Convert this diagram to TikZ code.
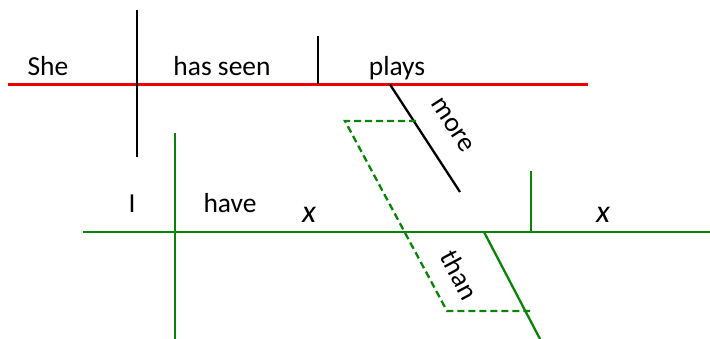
\documentclass[tikz,border=0pt]{standalone}
\usepackage{fontspec}
\setmainfont{Carlito}
\usepackage{tikz}
\usetikzlibrary{arrows.meta,positioning,calc}

\definecolor{diagred}{RGB}{235,0,0}
\definecolor{diaggreen}{RGB}{10,130,10}

\begin{document}
\begin{tikzpicture}[x=1pt,y=-1pt,
  redline/.style={draw=diagred, line width=2.4pt},
  greenline/.style={draw=diaggreen, line width=2.3pt},
  blackline/.style={draw=black, line width=2.3pt},
  dashline/.style={draw=diaggreen, line width=2.3pt, dash pattern=on 7pt off 4pt},
  word/.style={inner sep=0pt, anchor=base, font=\fontsize{27.5}{30}\selectfont},
  var/.style={inner sep=0pt, anchor=base, font=\fontsize{32}{34}\selectfont\itshape}]
\useasboundingbox (0,0) rectangle (710,339);

% main clause
\coordinate (ml) at (8,84.5);
\coordinate (mr) at (588,84.5);
\coordinate (st) at (137,10);
\coordinate (sb) at (137,157);
\coordinate (vt) at (318,36);
\coordinate (vb) at (318,84.5);
\coordinate (mt) at (390,84.5);
\coordinate (mb) at (460,192);
\draw[redline] (ml) -- (mr);
\draw[blackline] (st) -- (sb);
\draw[blackline] (vt) -- (vb);
\draw[blackline] (mt) -- (mb);
\node[word] (she) at (48,76) {She};
\node[word] (seen) at (222,76) {has seen};
\node[word] (plays) at (397,76) {plays};
\node[word, anchor=center, rotate=-57] (more) at (452,125) {more};

% comparative clause
\coordinate (cl) at (83,232);
\coordinate (cr) at (710,232);
\coordinate (it) at (175,133);
\coordinate (ib) at (175,339);
\coordinate (ot) at (531,171);
\coordinate (ob) at (531,232);
\coordinate (tt) at (484,232);
\coordinate (tb) at (540,339);
\draw[greenline] (cl) -- (cr);
\draw[greenline] (it) -- (ib);
\draw[greenline] (ot) -- (ob);
\draw[greenline] (tt) -- (tb);
\node[word] (i) at (132,213) {I};
\node[word] (have) at (230,213) {have};
\node[var] (x1) at (309,223) {x};
\node[var] (x2) at (603,223) {x};
\node[word, anchor=center, rotate=-62] (than) at (460,275) {than};

% dashed link
\coordinate (da) at (416,121);
\coordinate (db) at (345,121);
\coordinate (dc) at (447,311);
\coordinate (dd) at (530,311);
\draw[dashline] (da) -- (db) -- (dc) -- (dd);
\end{tikzpicture}
\end{document}
